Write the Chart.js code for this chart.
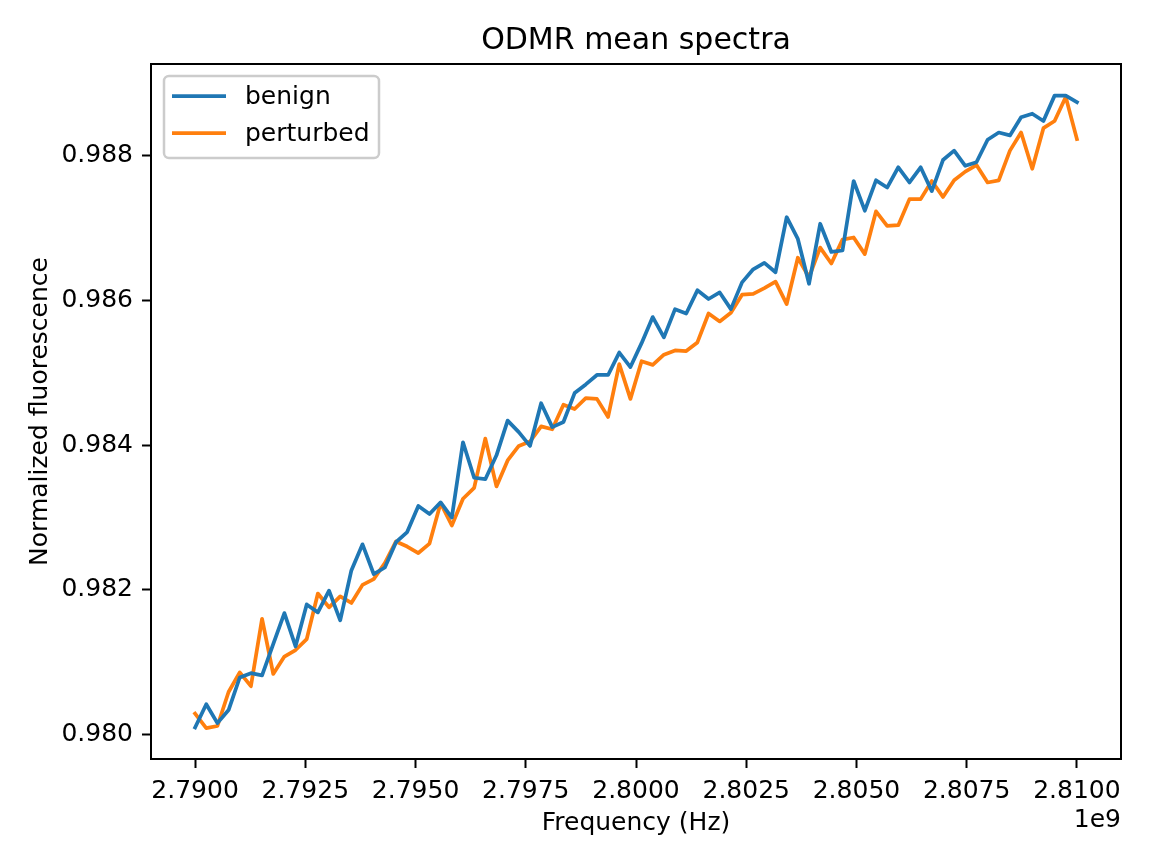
<!DOCTYPE html>
<html><head><meta charset="utf-8">
<script src="https://cdn.jsdelivr.net/npm/chart.js@4.4.0/dist/chart.umd.min.js"></script>
<style>html,body{margin:0;padding:0;background:#fff;}#wrap{width:1152px;height:864px;}</style>
</head><body><div id="wrap"><canvas id="c" width="1152" height="864" style="width:1152px;height:864px"></canvas></div>
<script>
const frequenciesHz = [
2790000000,2790253165,2790506329,2790759494,2791012658,2791265823,2791518987,2791772152,2792025316,2792278481,
2792531646,2792784810,2793037975,2793291139,2793544304,2793797468,2794050633,2794303797,2794556962,2794810127,
2795063291,2795316456,2795569620,2795822785,2796075949,2796329114,2796582278,2796835443,2797088608,2797341772,
2797594937,2797848101,2798101266,2798354430,2798607595,2798860759,2799113924,2799367089,2799620253,2799873418,
2800126582,2800379747,2800632911,2800886076,2801139241,2801392405,2801645570,2801898734,2802151899,2802405063,
2802658228,2802911392,2803164557,2803417722,2803670886,2803924051,2804177215,2804430380,2804683544,2804936709,
2805189873,2805443038,2805696203,2805949367,2806202532,2806455696,2806708861,2806962025,2807215190,2807468354,
2807721519,2807974684,2808227848,2808481013,2808734177,2808987342,2809240506,2809493671,2809746835,2810000000];
const benign = [
0.98010,0.98042,0.98016,0.98034,0.98079,0.98085,0.98082,0.98125,0.98168,0.98122,
0.98180,0.98169,0.98199,0.98158,0.98227,0.98263,0.98222,0.98231,0.98266,0.98280,
0.98316,0.98305,0.98321,0.98300,0.98404,0.98355,0.98353,0.98386,0.98434,0.98418,
0.98399,0.98458,0.98425,0.98432,0.98472,0.98484,0.98497,0.98497,0.98528,0.98508,
0.98541,0.98577,0.98549,0.98588,0.98582,0.98614,0.98602,0.98611,0.98588,0.98625,
0.98643,0.98652,0.98639,0.98715,0.98685,0.98623,0.98706,0.98667,0.98669,0.98765,
0.98724,0.98766,0.98756,0.98784,0.98763,0.98784,0.98751,0.98794,0.98807,0.98786,
0.98791,0.98822,0.98832,0.98828,0.98853,0.98858,0.98848,0.98883,0.98883,0.98874];
const perturbed = [
0.98029,0.98009,0.98012,0.98059,0.98086,0.98067,0.98160,0.98084,0.98108,0.98117,
0.98132,0.98195,0.98176,0.98191,0.98182,0.98207,0.98215,0.98237,0.98267,0.98260,
0.98251,0.98264,0.98320,0.98289,0.98326,0.98341,0.98409,0.98343,0.98379,0.98399,
0.98405,0.98426,0.98422,0.98456,0.98450,0.98465,0.98464,0.98439,0.98512,0.98464,
0.98516,0.98511,0.98525,0.98531,0.98530,0.98542,0.98582,0.98571,0.98583,0.98608,
0.98609,0.98617,0.98626,0.98595,0.98659,0.98632,0.98673,0.98651,0.98684,0.98687,
0.98664,0.98723,0.98703,0.98704,0.98740,0.98740,0.98765,0.98743,0.98766,0.98778,
0.98787,0.98763,0.98766,0.98807,0.98832,0.98782,0.98838,0.98848,0.98881,0.98823];
const seriesLabels = ['benign','perturbed'];
const seriesColors = ['#1f77b4','#ff7f0e'];
const xTickValues = [2790000000,2792500000,2795000000,2797500000,2800000000,2802500000,2805000000,2807500000,2810000000];
const xTickLabels = ['2.7900','2.7925','2.7950','2.7975','2.8000','2.8025','2.8050','2.8075','2.8100'];
const yTickValues = [0.980,0.982,0.984,0.986,0.988];
const yTickLabels = ['0.980','0.982','0.984','0.986','0.988'];
const titleText = 'ODMR mean spectra';
const xLabelText = 'Frequency (Hz)';
const yLabelText = 'Normalized fluorescence';
const xOffsetText = '1e9';

const FONT = "'DejaVu Sans', sans-serif";

const decorPlugin = {
  id: 'decor',
  afterDraw(chart) {
    const ctx = chart.ctx, a = chart.chartArea;
    ctx.save();
    // frame
    ctx.strokeStyle = '#000'; ctx.lineWidth = 2;
    ctx.strokeRect(a.left, a.top, a.right - a.left, a.bottom - a.top);
    // title
    ctx.fillStyle = '#000';
    ctx.font = '30px ' + FONT;
    ctx.textAlign = 'center'; ctx.textBaseline = 'alphabetic';
    ctx.fillText(titleText, (a.left + a.right) / 2, a.top - 15);
    // x label
    ctx.font = '25px ' + FONT;
    ctx.fillText(xLabelText, (a.left + a.right) / 2, 830);
    // offset text
    ctx.textAlign = 'right';
    ctx.fillText(xOffsetText, a.right, 827);
    // y label
    ctx.save();
    ctx.translate(47, (a.top + a.bottom) / 2);
    ctx.rotate(-Math.PI / 2);
    ctx.textAlign = 'center';
    ctx.fillText(yLabelText, 0, 0);
    ctx.restore();
    // legend
    const lx = 164, ly = 76, lw = 215, lh = 82, r = 5;
    ctx.beginPath();
    ctx.moveTo(lx + r, ly);
    ctx.arcTo(lx + lw, ly, lx + lw, ly + lh, r);
    ctx.arcTo(lx + lw, ly + lh, lx, ly + lh, r);
    ctx.arcTo(lx, ly + lh, lx, ly, r);
    ctx.arcTo(lx, ly, lx + lw, ly, r);
    ctx.closePath();
    ctx.fillStyle = 'rgba(255,255,255,0.8)';
    ctx.fill();
    ctx.strokeStyle = '#cccccc'; ctx.lineWidth = 2.5;
    ctx.stroke();
    const rows = [96, 133];
    chart.data.datasets.forEach((ds, i) => {
      ctx.strokeStyle = ds.borderColor; ctx.lineWidth = 3.75; ctx.lineCap = 'butt';
      ctx.beginPath(); ctx.moveTo(172, rows[i]); ctx.lineTo(226, rows[i]); ctx.stroke();
      ctx.fillStyle = '#000'; ctx.font = '25px ' + FONT;
      ctx.textAlign = 'left'; ctx.textBaseline = 'middle';
      ctx.fillText(ds.label, 245, rows[i] + 1);
    });
    ctx.restore();
  }
};

const mk = (ys) => frequenciesHz.map((f, i) => ({x: f, y: ys[i]}));

new Chart(document.getElementById('c'), {
  type: 'line',
  data: {
    datasets: [
      {label: seriesLabels[0], data: mk(benign), borderColor: seriesColors[0], borderWidth: 3.75, pointRadius: 0, tension: 0, fill: false, borderJoinStyle: 'round', borderCapStyle: 'square'},
      {label: seriesLabels[1], data: mk(perturbed), borderColor: seriesColors[1], borderWidth: 3.75, pointRadius: 0, tension: 0, fill: false, borderJoinStyle: 'round', borderCapStyle: 'square'}
    ]
  },
  options: {
    responsive: false, devicePixelRatio: 1, animation: false,
    layout: {padding: {top: 64, right: 31, left: 0, bottom: 0}},
    plugins: {legend: {display: false}, title: {display: false}, tooltip: {enabled: false}},
    scales: {
      x: {
        type: 'linear', min: 2789000000, max: 2811000000,
        afterBuildTicks: s => { s.ticks = xTickValues.map(v => ({value: v})); },
        afterFit: s => { s.height = 105; },
        ticks: {autoSkip: false, maxRotation: 0, minRotation: 0, padding: 8, color: '#000',
          font: {family: FONT, size: 25},
          callback: (v) => xTickLabels[xTickValues.indexOf(v)]},
        grid: {display: true, drawOnChartArea: false, drawTicks: true, tickLength: 9, tickWidth: 2, tickColor: '#000'},
        border: {display: false}
      },
      y: {
        type: 'linear', min: 0.979664, max: 0.989267,
        afterBuildTicks: s => { s.ticks = yTickValues.map(v => ({value: v})); },
        afterFit: s => { s.width = 151; },
        ticks: {autoSkip: false, padding: 9, color: '#000',
          font: {family: FONT, size: 25},
          callback: (v) => yTickLabels[yTickValues.indexOf(v)]},
        grid: {display: true, drawOnChartArea: false, drawTicks: true, tickLength: 9, tickWidth: 2, tickColor: '#000'},
        border: {display: false}
      }
    }
  },
  plugins: [decorPlugin]
});
</script></body></html>
